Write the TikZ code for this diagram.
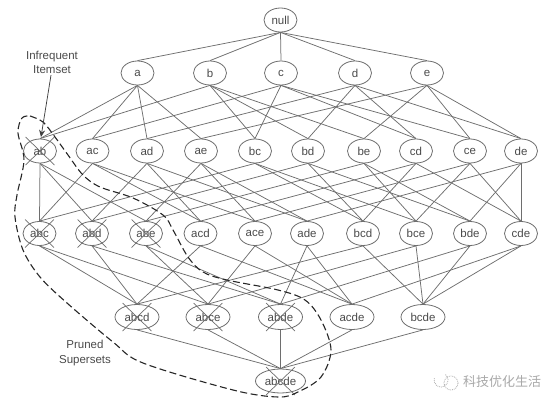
\documentclass[tikz,border=0pt]{standalone}
\usepackage{fontspec}
\setmainfont{Liberation Sans}
\newfontfamily\cjkwm{Noto Sans CJK SC}
\usetikzlibrary{shapes.geometric,arrows.meta}
\definecolor{edgec}{HTML}{6E6E6E}
\definecolor{textc}{HTML}{4A4A4A}
\definecolor{wmc}{HTML}{A8A8A8}
\tikzset{
  x=1pt,y=-1pt,
  base/.style={ellipse,draw=edgec,line width=.8pt,inner sep=0pt,text=textc,font=\fontsize{11.5}{12}\selectfont},
  item/.style={base,minimum width=33pt,minimum height=24pt},
  item4/.style={base,minimum width=44pt,minimum height=25pt},
  item5/.style={base,minimum width=50pt,minimum height=24pt},
  edge/.style={draw=edgec,line width=.75pt},
  crossline/.style={draw=edgec,line width=.7pt},
  note/.style={text=textc,align=center,inner sep=0pt,font=\fontsize{11.5}{14.5}\selectfont},
  boundary/.style={draw=black!85,line width=1.1pt,dash pattern=on 7pt off 3.5pt}
}
\begin{document}
\begin{tikzpicture}
\useasboundingbox (0,0) rectangle (558,407);
% nodes
\node[item] (null) at (280.5,20) {null};
\foreach \n/\x in {a/137.5,b/210,c/281,d/355,e/427}
  \node[item] (\n) at (\x,73) {\n};
\foreach \n/\x in {ab/40,ac/92.5,ad/147,ae/201,bc/255,bd/308,be/364,cd/416,ce/470,de/521}
  \node[item] (\n) at (\x,151) {\n};
\foreach \n/\x in {abc/39.5,abd/92,abe/146,acd/200.5,ace/255,ade/307,bcd/363,bce/416,bde/470,cde/521}
  \node[item] (\n) at (\x,233.5) {\n};
\foreach \n/\x in {abcd/137,abce/208,abde/280.5,acde/352,bcde/423}
  \node[item4] (\n) at (\x,317) {\n};
\node[item5] (abcde) at (280.5,381) {abcde};
% edges
\foreach \u/\v in {null/a,null/b,null/c,null/d,null/e,
  a/ab,a/ac,a/ad,a/ae,b/ab,b/bc,b/bd,b/be,c/ac,c/bc,c/cd,c/ce,d/ad,d/bd,d/cd,d/de,e/ae,e/be,e/ce,e/de,
  ab/abc,ab/abd,ab/abe,ac/abc,ac/acd,ac/ace,ad/abd,ad/acd,ad/ade,ae/abe,ae/ace,ae/ade,
  bc/abc,bc/bcd,bc/bce,bd/abd,bd/bcd,bd/bde,be/abe,be/bce,be/bde,cd/acd,cd/bcd,cd/cde,ce/ace,ce/bce,ce/cde,de/ade,de/bde,de/cde,
  abc/abcd,abc/abce,abd/abcd,abd/abde,abe/abce,abe/abde,acd/abcd,acd/acde,ace/abce,ace/acde,ade/abde,ade/acde,
  bcd/abcd,bcd/bcde,bce/abce,bce/bcde,bde/abde,bde/bcde,cde/acde,cde/bcde,
  abcd/abcde,abce/abcde,abde/abcde,acde/abcde,bcde/abcde}
  \draw[edge] (\u.south) -- (\v.north);
% crosses on pruned itemsets
\foreach \n in {ab,abc,abd,abe,abcd,abce,abde,abcde}{
  \draw[crossline] ([shift={(-14.5,-14)}]\n.center) -- ([shift={(14.5,14)}]\n.center);
  \draw[crossline] ([shift={(-14.5,14)}]\n.center) -- ([shift={(14.5,-14)}]\n.center);
}
% pruned boundary
\draw[boundary] plot[smooth,tension=.55] coordinates {
 (30,116) (43,122) (55,137) (68,155) (83,175) (100,187) (133,198) (163,215) (173,230) (188,257)
 (203,272) (227,280) (278,290) (305,300) (321,320) (331,350) (321,377) (298,392) (278,397)
 (233,390) (143,363) (113,342) (67,303) (40,277) (23,250) (15,217) (17,195) (24,160) (18,133) (22,118) (30,116)};
% labels
\node[note] (infreq) at (52,62.5) {Infrequent\\Itemset};
\coordinate (infreqtip) at (41,137);
\draw[edge,-{Stealth[length=7pt,width=6pt]},black!75] (infreq.south) ++(-1,1) -- (infreqtip);
\node[note] (pruned) at (85,353) {Pruned\\Supersets};
% watermark
\node[inner sep=0pt,text=wmc,font=\cjkwm\fontsize{13}{13}\selectfont] (wm) at (502,381.5) {科技优化生活};
\draw[wmc,line width=.8pt,densely dotted] (451,383) circle (7);
\draw[wmc,line width=.8pt,densely dotted] (441,380) ++(-50:7) arc (-50:200:7);
\end{tikzpicture}
\end{document}
